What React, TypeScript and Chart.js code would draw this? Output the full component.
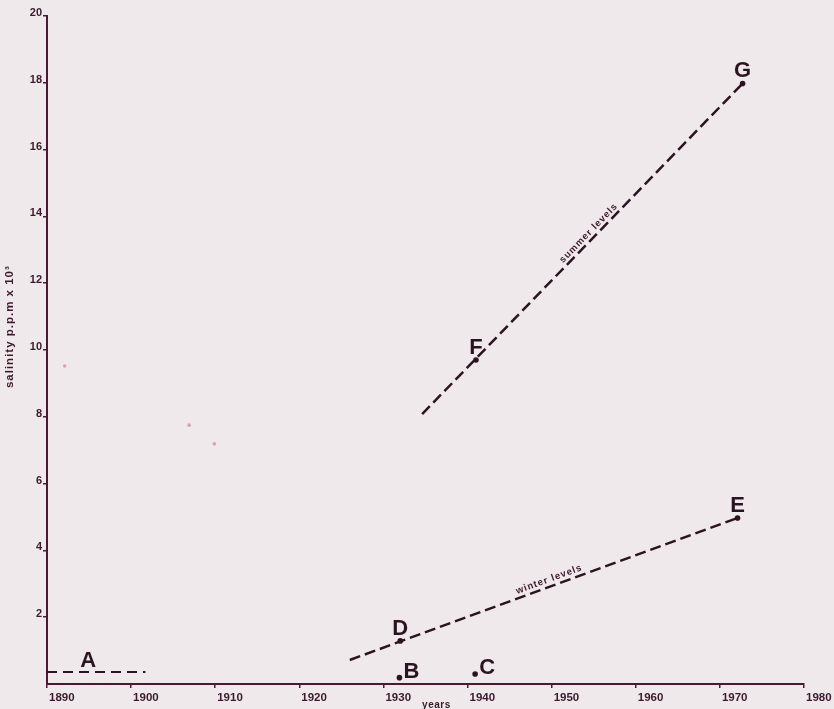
import { useEffect, useRef } from 'react';
import { Chart, registerables } from 'chart.js';

Chart.register(...registerables);

// ---- data ----
const xTickValues = [1890, 1900, 1910, 1920, 1930, 1940, 1950, 1960, 1970, 1980];
const yTickValues = [2, 4, 6, 8, 10, 12, 14, 16, 18, 20];

const lineAYears = [1890, 1901.7];
const lineAValues = [0.36, 0.36];

const winterYears = [1926.0, 1972.1];
const winterValues = [0.72, 4.97];

const summerYears = [1934.6, 1972.7];
const summerValues = [8.08, 17.98];

const markerNames = ['B', 'C', 'D', 'E', 'F', 'G'];
const markerYears = [1931.9, 1940.9, 1932.0, 1972.1, 1941.0, 1972.7];
const markerValues = [0.19, 0.3, 1.29, 4.97, 9.7, 17.98];

const stainYears = [1892.1, 1906.9, 1909.9];
const stainValues = [9.52, 7.75, 7.19];

const labelA = 'A';
const labelAYear = 1894.9;
const winterText = 'winter levels';
const winterTextYear = 1949.7;
const winterTextValue = 3.13;
const summerText = 'summer levels';
const summerTextYear = 1954.4;
const summerTextValue = 13.5;
const xTitle = 'years';
const xTitleYear = 1936.3;
const yTitle = 'salinity p.p.m x 10\u00b3';
const yTitleValue = 10.7;

// ---- styles ----
const BG = '#efe9eb';
const INK = '#2b1421';
const AXIS = '#4a1a32';
const TICK = '#3a1a2c';
const FONT = "'Liberation Sans', Arial, sans-serif";

const toPts = (xs: number[], ys: number[]) => xs.map((x, i) => ({ x, y: ys[i] }));

export default function App() {
  const ref = useRef<HTMLCanvasElement | null>(null);

  useEffect(() => {
    document.body.style.margin = '0';
    document.body.style.background = BG;
    const canvas = ref.current;
    if (!canvas) return;

    const bgPlugin = {
      id: 'bg',
      beforeDraw(chart: any) {
        const c = chart.ctx;
        c.save();
        c.fillStyle = BG;
        c.fillRect(0, 0, chart.width, chart.height);
        c.restore();
      },
    };

    const annotPlugin = {
      id: 'annot',
      afterDatasetsDraw(chart: any) {
        const c = chart.ctx as CanvasRenderingContext2D;
        const xs = chart.scales.x;
        const ys = chart.scales.y;
        c.save();
        c.fillStyle = INK;
        // letters at markers
        c.font = `bold 22px ${FONT}`;
        const meta = chart.getDatasetMeta(3);
        meta.data.forEach((el: any, i: number) => {
          const name = markerNames[i];
          if (name === 'B' || name === 'C') {
            c.textAlign = 'left';
            c.textBaseline = 'alphabetic';
            c.fillText(name, el.x + 4, el.y);
          } else {
            c.textAlign = 'center';
            c.textBaseline = 'alphabetic';
            c.fillText(name, el.x, el.y - 6);
          }
        });
        // A label above baseline segment
        c.textAlign = 'center';
        c.fillText(labelA, xs.getPixelForValue(labelAYear), ys.getPixelForValue(lineAValues[0]) - 5);

        // rotated line texts
        const drawAlong = (text: string, yrs: number[], vals: number[], tx: number, tv: number) => {
          const x0 = xs.getPixelForValue(yrs[0]);
          const y0 = ys.getPixelForValue(vals[0]);
          const x1 = xs.getPixelForValue(yrs[1]);
          const y1 = ys.getPixelForValue(vals[1]);
          const ang = Math.atan2(y1 - y0, x1 - x0);
          c.save();
          c.translate(xs.getPixelForValue(tx), ys.getPixelForValue(tv));
          c.rotate(ang);
          c.font = `bold 9.5px ${FONT}`;
          (c as any).letterSpacing = '1px';
          c.textAlign = 'center';
          c.textBaseline = 'middle';
          c.fillStyle = TICK;
          c.fillText(text, 0, 0);
          c.restore();
        };
        drawAlong(summerText, summerYears, summerValues, summerTextYear, summerTextValue);
        drawAlong(winterText, winterYears, winterValues, winterTextYear, winterTextValue);

        // axis titles
        c.fillStyle = TICK;
        c.font = `bold 10px ${FONT}`;
        (c as any).letterSpacing = '0.5px';
        c.textAlign = 'center';
        c.textBaseline = 'middle';
        c.fillText(xTitle, xs.getPixelForValue(xTitleYear), chart.height - 4);

        c.save();
        c.translate(10, ys.getPixelForValue(yTitleValue));
        c.rotate(-Math.PI / 2);
        c.font = `bold 11.5px ${FONT}`;
        (c as any).letterSpacing = '1px';
        c.fillText(yTitle, 0, 0);
        c.restore();
        c.restore();
      },
    };

    const chart = new Chart(canvas, {
      type: 'scatter',
      data: {
        datasets: [
          {
            label: 'A',
            data: toPts(lineAYears, lineAValues),
            showLine: true,
            borderColor: INK,
            borderWidth: 2,
            borderDash: [10, 6],
            pointRadius: 0,
          },
          {
            label: 'winter levels',
            data: toPts(winterYears, winterValues),
            showLine: true,
            borderColor: INK,
            borderWidth: 2.5,
            borderDash: [11, 5],
            pointRadius: 0,
          },
          {
            label: 'summer levels',
            data: toPts(summerYears, summerValues),
            showLine: true,
            borderColor: INK,
            borderWidth: 2.5,
            borderDash: [11, 5],
            pointRadius: 0,
          },
          {
            label: 'points',
            data: toPts(markerYears, markerValues),
            pointRadius: 2.8,
            backgroundColor: INK,
            borderWidth: 0,
          },
          {
            label: 'stains',
            data: toPts(stainYears, stainValues),
            pointRadius: 1.8,
            backgroundColor: 'rgba(190,120,150,0.6)',
            borderWidth: 0,
          },
        ],
      },
      options: {
        animation: false,
        responsive: false,
        events: [],
        layout: { padding: { left: 0, right: 30, top: 16, bottom: 0 } },
        plugins: { legend: { display: false }, tooltip: { enabled: false } },
        scales: {
          x: {
            type: 'linear',
            min: 1890,
            max: 1980,
            afterBuildTicks: (s: any) => {
              s.ticks = xTickValues.map((v) => ({ value: v }));
            },
            afterFit: (s: any) => {
              s.height = 25;
              s.paddingLeft = 0;
              s.paddingRight = 0;
            },
            grid: { drawOnChartArea: false, drawTicks: true, tickLength: 4, color: AXIS, lineWidth: 1.5 },
            border: { display: true, color: AXIS, width: 2 },
            ticks: {
              align: 'start',
              labelOffset: 2,
              padding: 3,
              autoSkip: false,
              maxRotation: 0,
              color: TICK,
              font: { family: FONT, size: 11.5, weight: 'bold' },
              callback: (v: any) => String(v),
            },
          },
          y: {
            type: 'linear',
            min: 0,
            max: 20,
            afterBuildTicks: (s: any) => {
              s.ticks = yTickValues.map((v) => ({ value: v }));
            },
            afterFit: (s: any) => {
              s.width = 47;
              s.paddingTop = 0;
              s.paddingBottom = 0;
            },
            grid: { drawOnChartArea: false, drawTicks: true, tickLength: 4, color: AXIS, lineWidth: 1.5 },
            border: { display: true, color: AXIS, width: 2 },
            ticks: {
              labelOffset: -3,
              padding: 1,
              autoSkip: false,
              color: TICK,
              font: { family: FONT, size: 11, weight: 'bold' },
              callback: (v: any) => String(v),
            },
          },
        },
      } as any,
      plugins: [bgPlugin, annotPlugin],
    });

    return () => chart.destroy();
  }, []);

  return (
    <div style={{ width: 834, height: 709, background: BG }}>
      <canvas ref={ref} width={834} height={709} style={{ width: 834, height: 709, display: 'block' }} />
    </div>
  );
}
